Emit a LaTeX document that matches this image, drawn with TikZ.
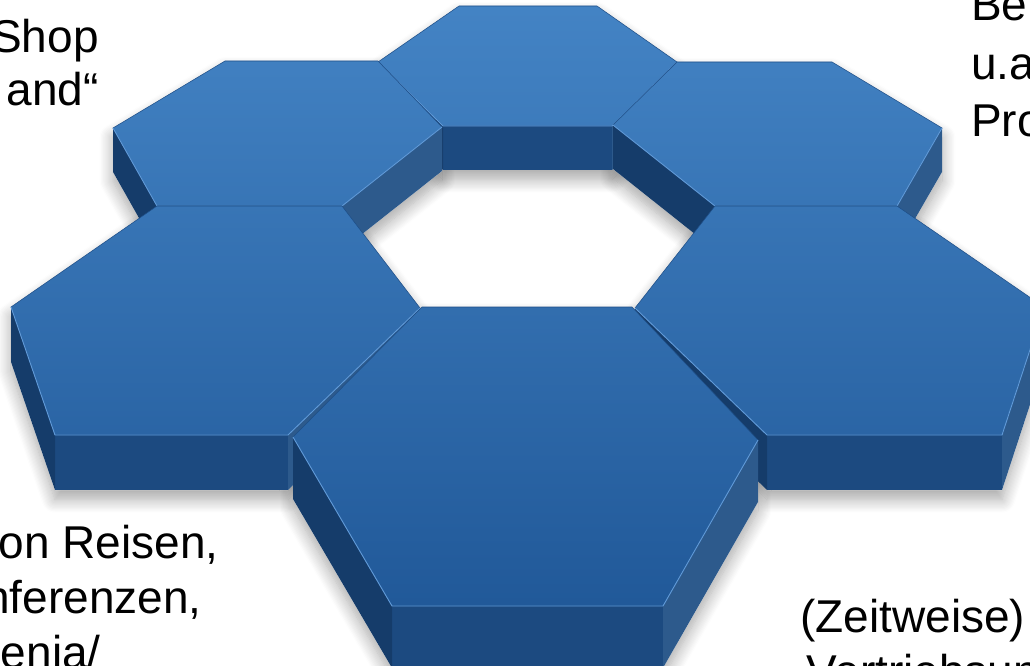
\documentclass[tikz,border=0pt]{standalone}
\usepackage{fontspec}
\setmainfont{Liberation Sans}
\usepackage{xcolor}
\usepackage{tikz}
\usetikzlibrary{calc, shadows.blur}

\definecolor{xanhSang}{RGB}{68,132,197}
\definecolor{xanhToi}{RGB}{32,88,152}
\definecolor{matTrai}{RGB}{21,60,106}
\definecolor{matTruoc}{RGB}{28,74,128}
\definecolor{matPhai}{RGB}{45,90,140}
\definecolor{vienSang}{RGB}{96,154,216}
\definecolor{vienToi}{RGB}{30,78,135}

% khoi luc giac: TL, TR, R, BR, BL, L, do day, mau tren, mau duoi
\newcommand{\khoiluc}[9]{%
  \fill[matPhai] #4 -- #3 -- ($#3+(0,#7)$) -- ($#4+(0,#7)$) -- cycle;
  \fill[matTruoc] #5 -- #4 -- ($#4+(0,#7)$) -- ($#5+(0,#7)$) -- cycle;
  \fill[matTrai] #6 -- #5 -- ($#5+(0,#7)$) -- ($#6+(0,#7)$) -- cycle;
  \shade[top color=#8, bottom color=#9, draw=vienToi, line width=0.4pt]
    #1 -- #2 -- #3 -- #4 -- #5 -- #6 -- cycle;
  \draw[vienSang, line width=0.7pt] #6 -- #5 -- #4 -- #3;
}
% bong mo duoi khoi
\newcommand{\bongluc}[7]{%
  \fill[white, bongmo] #1 -- #2 -- #3 -- ($#3+(0,#7)$) -- ($#4+(0,#7)$)
    -- ($#5+(0,#7)$) -- ($#6+(0,#7)$) -- #6 -- cycle;
}

\begin{document}
\begin{tikzpicture}[x=0.75pt, y=-0.75pt,
    bongmo/.style={blur shadow={shadow xshift=0pt, shadow yshift=-7pt,
        shadow blur radius=10pt, shadow blur steps=12, shadow opacity=35}},
    chu/.style={inner sep=0pt, text=black,
        font=\fontsize{34.5}{40}\selectfont}]
    \useasboundingbox (0,0) rectangle (1030,666);
    \clip (0,0) rectangle (1030,666);

    % Vẽ bóng
    \bongluc{(459,6)}{(597,6)}{(677,62)}{(612,126)}{(443,126)}{(378,62)}{44}
    \bongluc{(225,61)}{(378,61)}{(442,127)}{(342,206)}{(157,206)}{(113,128)}{44}
    \bongluc{(677,62)}{(832,62)}{(942,128)}{(897,206)}{(715,206)}{(613,125)}{44}
    \bongluc{(157,206)}{(342,206)}{(420,308)}{(288,435)}{(55,435)}{(11,307)}{55}
    \bongluc{(715,206)}{(897,206)}{(1044,307)}{(1002,435)}{(767,435)}{(635,308)}{55}
    \bongluc{(422,307)}{(632,307)}{(758,440)}{(663,606)}{(392,606)}{(293,437)}{62}

    % Vẽ các khối lục giác
    \khoiluc{(459,6)}{(597,6)}{(677,62)}{(612,126)}{(443,126)}{(378,62)}{44}
        {xanhSang!98!xanhToi}{xanhSang!80!xanhToi}
    \khoiluc{(225,61)}{(378,61)}{(442,127)}{(342,206)}{(157,206)}{(113,128)}{44}
        {xanhSang!90!xanhToi}{xanhSang!66!xanhToi}
    \khoiluc{(677,62)}{(832,62)}{(942,128)}{(897,206)}{(715,206)}{(613,125)}{44}
        {xanhSang!90!xanhToi}{xanhSang!66!xanhToi}
    \khoiluc{(157,206)}{(342,206)}{(420,308)}{(288,435)}{(55,435)}{(11,307)}{55}
        {xanhSang!66!xanhToi}{xanhSang!29!xanhToi}
    \khoiluc{(715,206)}{(897,206)}{(1044,307)}{(1002,435)}{(767,435)}{(635,308)}{55}
        {xanhSang!66!xanhToi}{xanhSang!29!xanhToi}
    \khoiluc{(422,307)}{(632,307)}{(758,440)}{(663,606)}{(392,606)}{(293,437)}{62}
        {xanhSang!50!xanhToi}{xanhSang!2!xanhToi}

    % Chữ
    \node[chu, anchor=base east] (shop) at (99,53) {Shop};
    \node[chu, anchor=base east] (land) at (99,106) {and“};
    \node[chu, anchor=base west] (be) at (971,21) {Be};
    \node[chu, anchor=base west] (ua) at (971,80) {u.a};
    \node[chu, anchor=base west] (pro) at (971,137) {Pro};
    \node[chu, anchor=base east] (reisen) at (219,558) {on Reisen,};
    \node[chu, anchor=base east] (konf) at (202,613) {nferenzen,};
    \node[chu, anchor=base east] (enia) at (101,668) {enia/};
    \node[chu, anchor=base west] (zeit) at (800,632) {(Zeitweise)};
    \node[chu, anchor=base west] (vertrieb) at (806,687) {Vertriebsun};
\end{tikzpicture}
\end{document}
